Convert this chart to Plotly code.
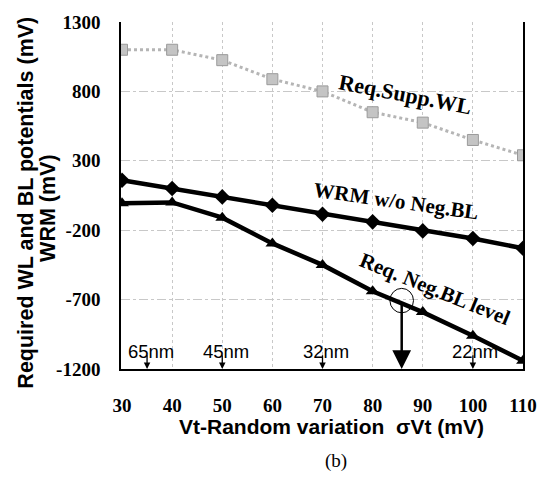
import plotly.graph_objects as go

x_vals = [30, 40, 50, 60, 70, 80, 90, 100, 110]
req_supp_wl = [1100, 1100, 1025, 888, 800, 650, 575, 450, 340]
wrm_wo_negbl = [160, 100, 40, -20, -85, -140, -205, -260, -330]
req_neg_bl = [-5, 0, -110, -295, -450, -640, -790, -960, -1140]

x_ticks = [30, 40, 50, 60, 70, 80, 90, 100, 110]
y_ticks = [1300, 800, 300, -200, -700, -1200]

node_labels = ["65nm", "45nm", "32nm", "22nm"]
node_x = [35, 50, 70, 100]
node_text_x = [35.8, 50.8, 70.7, 100.5]

mark_x = 85.8
mark_y = -707

fig = go.Figure()

fig.add_trace(go.Scatter(
    x=x_vals, y=req_supp_wl, mode="lines+markers",
    line=dict(color="#b5b5b5", width=3, dash="dot"),
    marker=dict(symbol="square", size=11, color="#c4c4c4",
                line=dict(color="#9a9a9a", width=1)),
    showlegend=False))
fig.add_trace(go.Scatter(
    x=x_vals, y=wrm_wo_negbl, mode="lines+markers",
    line=dict(color="black", width=4.5),
    marker=dict(symbol="diamond", size=12, color="black"),
    showlegend=False))
fig.add_trace(go.Scatter(
    x=x_vals, y=req_neg_bl, mode="lines+markers",
    line=dict(color="black", width=4.5),
    marker=dict(symbol="triangle-up", size=12, color="black"),
    showlegend=False))

serif = "Liberation Serif"
sans = "Liberation Sans"

annotations = []
# series labels
annotations.append(dict(x=86.6, y=779, xref="x", yref="y", text="<b>Req.Supp.WL</b>",
                        showarrow=False, textangle=11,
                        font=dict(family=serif, size=22, color="black")))
annotations.append(dict(x=84.6, y=11, xref="x", yref="y", text="<b>WRM w/o Neg.BL</b>",
                        showarrow=False, textangle=8,
                        font=dict(family=serif, size=21, color="black")))
annotations.append(dict(x=92.4, y=-623, xref="x", yref="y", text="<b>Req. Neg.BL level</b>",
                        showarrow=False, textangle=22,
                        font=dict(family=serif, size=21, color="black")))

# technology node arrows and labels
for lab, nx, tx in zip(node_labels, node_x, node_text_x):
    annotations.append(dict(x=nx, y=-1200, ax=nx, ay=-1090, xref="x", yref="y",
                            axref="x", ayref="y", text="", showarrow=True,
                            arrowhead=2, arrowsize=1, arrowwidth=1.3, arrowcolor="black"))
    annotations.append(dict(x=tx, y=-1073, xref="x", yref="y", text=lab,
                            showarrow=False,
                            font=dict(family=sans, size=18.5, color="black")))

# big arrow from circle to axis
annotations.append(dict(x=mark_x, y=-1200, ax=mark_x, ay=mark_y, xref="x", yref="y",
                        axref="x", ayref="y", text="", showarrow=True,
                        arrowhead=2, arrowsize=1.5, arrowwidth=2.5, arrowcolor="black"))

# axis titles and caption
annotations.append(dict(x=-0.2367, y=0.479, xref="paper", yref="paper",
                        xanchor="center", yanchor="middle",
                        text="<b>Required WL and BL potentials (mV)</b>",
                        textangle=-90, showarrow=False,
                        font=dict(family=sans, size=21.5, color="black")))
annotations.append(dict(x=-0.1836, y=0.462, xref="paper", yref="paper",
                        xanchor="center", yanchor="middle",
                        text="<b>WRM (mV)</b>",
                        textangle=-90, showarrow=False,
                        font=dict(family=sans, size=21.5, color="black")))
annotations.append(dict(x=0.524, y=-0.166, xref="paper", yref="paper",
                        xanchor="center", yanchor="middle",
                        text="<b>Vt-Random variation  σVt (mV)</b>",
                        showarrow=False,
                        font=dict(family=sans, size=21, color="black")))
annotations.append(dict(x=0.534, y=-0.265, xref="paper", yref="paper",
                        xanchor="center", yanchor="middle",
                        text="(b)", showarrow=False,
                        font=dict(family=serif, size=19, color="black")))

shapes = [dict(type="circle", xref="x", yref="y",
               x0=mark_x - 2.35, x1=mark_x + 2.35, y0=mark_y - 88, y1=mark_y + 88,
               line=dict(color="black", width=1))]

fig.update_layout(
    width=549, height=481,
    margin=dict(l=121, r=14, t=14, b=112),
    paper_bgcolor="white", plot_bgcolor="white",
    annotations=annotations, shapes=shapes,
    xaxis=dict(range=[29.8, 110], tickvals=x_ticks,
               ticktext=[f"<b>{v}</b>" for v in x_ticks],
               showline=True, linecolor="black", linewidth=1.5,
               ticks="outside", ticklen=18, tickcolor="rgba(0,0,0,0)",
               showgrid=True, gridcolor="#c8c8c8", griddash="dot", gridwidth=1,
               zeroline=False,
               tickfont=dict(family=serif, size=19, color="black")),
    yaxis=dict(range=[-1200, 1300], tickvals=y_ticks,
               ticktext=[f"<b>{v}</b>" for v in y_ticks],
               showline=True, linecolor="black", linewidth=1.5, mirror=True,
               ticks="outside", ticklen=15, tickcolor="rgba(0,0,0,0)",
               showgrid=True, gridcolor="#c8c8c8", griddash="dashdot", gridwidth=1,
               zeroline=False,
               tickfont=dict(family=serif, size=19, color="black")),
)

fig.write_html("out.html", config={"displayModeBar": False},
               post_script=("document.body.style.margin='0';"
                            "document.body.style.padding='0';"
                            "document.body.style.overflow='hidden';"
                            "document.documentElement.style.overflow='hidden';"))
